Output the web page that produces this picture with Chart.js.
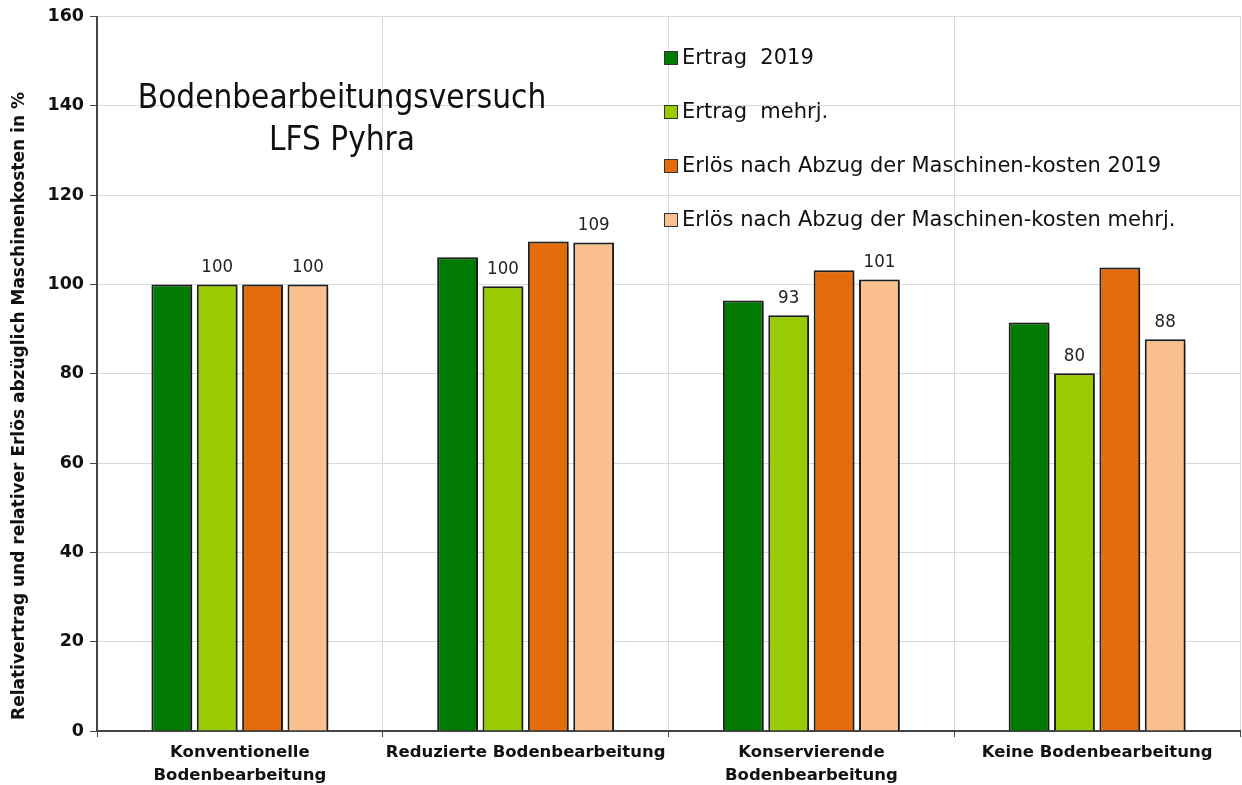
<!DOCTYPE html>
<html><head><meta charset="utf-8">
<script src="https://cdn.jsdelivr.net/npm/chart.js@4"></script>
<style>
html,body{margin:0;padding:0;background:#fff;}
#wrap{position:relative;width:1242px;height:785px;}
#title{position:absolute;left:92px;top:76px;width:500px;text-align:center;font-family:"DejaVu Sans Condensed","DejaVu Sans",sans-serif;font-size:33px;line-height:42px;color:#111;}
#legend{position:absolute;left:664px;top:43px;font-family:"DejaVu Sans",sans-serif;font-size:21px;color:#111;}
.li{height:54px;line-height:28px;white-space:nowrap;}
.sw{display:inline-block;width:14px;height:14px;border:1.5px solid #333;margin-right:4px;vertical-align:-1px;box-sizing:border-box;}
</style></head>
<body><div id="wrap"><canvas id="c" width="1242" height="785"></canvas>
<div id="title">Bodenbearbeitungsversuch<br>LFS Pyhra</div>
<div id="legend"></div></div>
<script>
const categories = [["Konventionelle","Bodenbearbeitung"],"Reduzierte Bodenbearbeitung",["Konservierende","Bodenbearbeitung"],"Keine Bodenbearbeitung"];
const seriesNames = ["Ertrag  2019","Ertrag  mehrj.","Erlös nach Abzug der Maschinen-kosten 2019","Erlös nach Abzug der Maschinen-kosten mehrj."];
const ertrag2019 = [100, 106.1, 96.4, 91.5];
const ertragMehrj = [100, 99.6, 93.1, 80.1];
const erloes2019 = [100, 109.6, 103.2, 103.8];
const erloesMehrj = [100, 109.4, 101.1, 87.7];
const showLabels = [false, true, false, true];
const colors = ["#007A00","#99CC00","#E46C0A","#FAC090"];
const yTitle = "Relativertrag und relativer Erlös abzüglich Maschinenkosten in %";

const allSeries = [ertrag2019, ertragMehrj, erloes2019, erloesMehrj];
const legendEl = document.getElementById('legend');
seriesNames.forEach((n,i)=>{
  const d=document.createElement('div');d.className='li';
  d.innerHTML='<span class="sw" style="background:'+colors[i]+'"></span>'+n.replace(/  /g,'&nbsp; ');
  legendEl.appendChild(d);
});

const shadow = {
  id:'shadow',
  beforeDatasetsDraw(chart){const c=chart.ctx;c.save();c.shadowColor='rgba(0,0,0,0.35)';c.shadowBlur=6;c.shadowOffsetX=4;c.shadowOffsetY=2;},
  afterDatasetsDraw(chart){chart.ctx.restore();}
};
const labels = {
  id:'vlabels',
  afterDatasetsDraw(chart){
    const c=chart.ctx;c.save();
    c.font='18.5px "DejaVu Sans Condensed","DejaVu Sans",sans-serif';c.fillStyle='#222';c.textAlign='center';c.textBaseline='bottom';
    chart.data.datasets.forEach((ds,i)=>{
      if(!showLabels[i])return;
      chart.getDatasetMeta(i).data.forEach((bar,j)=>{
        c.fillText(String(Math.round(ds.data[j])), bar.x, bar.y-8);
      });
    });
    c.restore();
  }
};
const ytitle = {
  id:'ytitle',
  afterDraw(chart){
    const c=chart.ctx;c.save();
    c.translate(20,406);c.rotate(-Math.PI/2);
    c.font='bold 17px "DejaVu Sans",sans-serif';c.fillStyle='#111';c.textAlign='center';c.textBaseline='middle';
    c.fillText(yTitle,0,0);
    c.restore();
  }
};

new Chart(document.getElementById('c'),{
  type:'bar',
  data:{labels:categories,datasets:allSeries.map((d,i)=>({label:seriesNames[i],data:d,backgroundColor:colors[i],borderColor:'#222',borderWidth:2,barPercentage:0.9,categoryPercentage:0.635}))},
  options:{
    responsive:false,animation:false,
    layout:{padding:{top:10,right:2,left:0,bottom:0}},
    plugins:{legend:{display:false},tooltip:{enabled:false}},
    scales:{
      x:{
        grid:{offset:true,color:'#d9d9d9',lineWidth:1,tickLength:6,tickColor:'#444'},
        border:{color:'#444',width:2},
        ticks:{color:'#111',font:{family:'"DejaVu Sans",sans-serif',size:16.5,weight:'bold',lineHeight:1.4},maxRotation:0,autoSkip:false,padding:4},
        afterFit(s){s.height=54;}
      },
      y:{
        min:0,max:160,
        ticks:{stepSize:20,color:'#111',font:{family:'"DejaVu Sans",sans-serif',size:17.5,weight:'bold'},padding:6},
        grid:{color:'#d9d9d9',lineWidth:1,tickLength:7,tickColor:'#444'},
        border:{color:'#444',width:2},
        afterFit(s){s.width=97;}
      }
    }
  },
  plugins:[shadow,labels,ytitle]
});
</script></body></html>
